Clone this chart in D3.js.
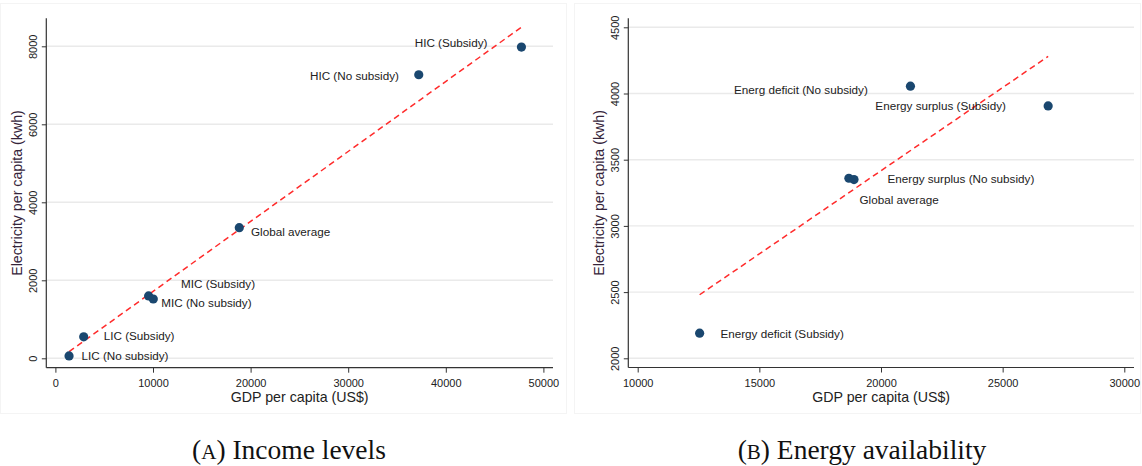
<!DOCTYPE html>
<html>
<head>
<meta charset="utf-8">
<script src="https://cdn.jsdelivr.net/npm/d3@7"></script>
<style>
  html, body { margin: 0; padding: 0; background: #fff; }
  svg { display: block; }
  text { font-family: "Liberation Sans", Arial, sans-serif; }
</style>
</head>
<body>
<svg id="chart" width="1142" height="466"></svg>
<script>
// ---- Panel A: income levels ----
const incomeGroups = ["LIC (No subsidy)", "LIC (Subsidy)", "MIC (Subsidy)", "MIC (No subsidy)",
                      "Global average", "HIC (No subsidy)", "HIC (Subsidy)"];
const incomeGdp  = [1400, 2900, 9550, 10030, 18840, 37230, 47750];
const incomeElec = [60, 550, 1600, 1520, 3350, 7270, 7980];
const incomeFitGdp  = [1400, 47750];
const incomeFitElec = [170, 8490];
const incomeXTicks = [0, 10000, 20000, 30000, 40000, 50000];
const incomeYTicks = [0, 2000, 4000, 6000, 8000];

// ---- Panel B: energy availability ----
const energyGroups = ["Energy deficit (Subsidy)", "Energy surplus (No subsidy)", "Global average",
                      "Energ deficit (No subsidy)", "Energy surplus (Subsidy)"];
const energyGdp  = [12545, 18680, 18890, 21210, 26870];
const energyElec = [2190, 3360, 3350, 4055, 3906];
const energyFitGdp  = [12545, 26870];
const energyFitElec = [2480, 4280];
const energyXTicks = [10000, 15000, 20000, 25000, 30000];
const energyYTicks = [2000, 2500, 3000, 3500, 4000, 4500];

const xTitle = "GDP per capita (US$)";
const yTitle = "Electricity per capita (kwh)";

// Marker label placement (pixel offsets from the marker, text anchor)
const incomeLabelPlace = [
  { dx: 12.4, dy: 0,    anchor: "start" },
  { dx: 20,   dy: -0.7, anchor: "start" },
  { dx: 32.4, dy: -12.4, anchor: "start" },
  { dx: 8,    dy: 3.7,  anchor: "start" },
  { dx: 11.7, dy: 3.7,  anchor: "start" },
  { dx: -19.8, dy: 1.4, anchor: "end" },
  { dx: -34,  dy: -4.7, anchor: "end" }
];
const energyLabelPlace = [
  { dx: 20.8, dy: 0.7,  anchor: "start" },
  { dx: 38.6, dy: 0.3,  anchor: "start" },
  { dx: 5.5,  dy: 20.7, anchor: "start" },
  { dx: -42.6, dy: 4,   anchor: "end" },
  { dx: -42.2, dy: 0.3, anchor: "end" }
];

const svg = d3.select("#chart");

// faint panel frames
svg.append("rect").attr("x", 0.5).attr("y", 3.5).attr("width", 566).attr("height", 410)
  .attr("fill", "#fff").attr("stroke", "#f4f4f4");
svg.append("rect").attr("x", 574.5).attr("y", 3.5).attr("width", 566).attr("height", 410)
  .attr("fill", "#fff").attr("stroke", "#f4f4f4");

function drawPanel(cfg) {
  const g = svg.append("g");
  const x = d3.scaleLinear().domain(cfg.xDomain).range(cfg.xRange);
  const y = d3.scaleLinear().domain(cfg.yDomain).range(cfg.yRange);
  const left = cfg.axisLeft, right = cfg.plotRight, top = cfg.axisTop, bottom = cfg.axisBottom;

  // horizontal gridlines
  g.append("g").selectAll("line").data(cfg.yTicks).join("line")
    .attr("x1", left).attr("x2", right)
    .attr("y1", d => y(d)).attr("y2", d => y(d))
    .attr("stroke", "#eaeaea").attr("stroke-width", 1.4);

  // y axis
  const yAxis = d3.axisLeft(y).tickValues(cfg.yTicks).tickSize(4.5).tickPadding(0).tickFormat(d3.format("d"));
  const ya = g.append("g").attr("transform", `translate(${left},0)`).call(yAxis);
  ya.select(".domain").remove();
  ya.selectAll(".tick line").attr("stroke", "#333").attr("stroke-width", 1);
  ya.selectAll(".tick text")
    .attr("x", null).attr("dy", null).attr("text-anchor", "middle")
    .attr("transform", "translate(-9.2,0) rotate(-90)")
    .attr("fill", "#222").attr("font-size", 11)
    .style("font-family", "Liberation Sans, Arial, sans-serif");
  g.append("line").attr("x1", left).attr("x2", left).attr("y1", top).attr("y2", bottom)
    .attr("stroke", "#333").attr("stroke-width", 1.2);

  // x axis
  const xAxis = d3.axisBottom(x).tickValues(cfg.xTicks).tickSize(5).tickPadding(0).tickFormat(d3.format("d"));
  const xa = g.append("g").attr("transform", `translate(0,${bottom})`).call(xAxis);
  xa.select(".domain").remove();
  xa.selectAll(".tick line").attr("stroke", "#333").attr("stroke-width", 1);
  xa.selectAll(".tick text")
    .attr("y", 19.3).attr("dy", null)
    .attr("fill", "#222").attr("font-size", 11)
    .style("font-family", "Liberation Sans, Arial, sans-serif");
  g.append("line").attr("x1", left).attr("x2", right).attr("y1", bottom).attr("y2", bottom)
    .attr("stroke", "#333").attr("stroke-width", 1.2);

  // axis titles
  g.append("text").attr("x", (left + right) / 2).attr("y", bottom + 34.5)
    .attr("text-anchor", "middle").attr("font-size", 14.2).attr("fill", "#222")
    .text(xTitle);
  g.append("text")
    .attr("transform", `translate(${left - 24.5},${(top + bottom) / 2}) rotate(-90)`)
    .attr("text-anchor", "middle").attr("font-size", 14.2).attr("fill", "#35243a")
    .text(yTitle);

  // fitted line
  const fit = cfg.fitX.map((v, i) => [v, cfg.fitY[i]]);
  g.append("path").datum(fit)
    .attr("d", d3.line().x(d => x(d[0])).y(d => y(d[1])))
    .attr("fill", "none").attr("stroke", "#ff2b2b").attr("stroke-width", 1.5)
    .attr("stroke-dasharray", "6,4");

  // points
  const pts = cfg.names.map((n, i) => ({ name: n, gx: cfg.gdp[i], ey: cfg.elec[i], place: cfg.place[i] }));
  g.append("g").selectAll("circle").data(pts).join("circle")
    .attr("cx", d => x(d.gx)).attr("cy", d => y(d.ey)).attr("r", 4.6)
    .attr("fill", "#1a476f");

  // marker labels
  g.append("g").selectAll("text").data(pts).join("text")
    .attr("x", d => x(d.gx) + d.place.dx)
    .attr("y", d => y(d.ey) + d.place.dy + 4.2)
    .attr("text-anchor", d => d.place.anchor)
    .attr("font-size", 11.7).attr("fill", "#222")
    .text(d => d.name);
}

drawPanel({
  names: incomeGroups, gdp: incomeGdp, elec: incomeElec, place: incomeLabelPlace,
  fitX: incomeFitGdp, fitY: incomeFitElec,
  xTicks: incomeXTicks, yTicks: incomeYTicks,
  xDomain: [0, 50000], xRange: [55.4, 543.4],
  yDomain: [0, 8000], yRange: [358.3, 46.3],
  axisLeft: 46.3, plotRight: 553, axisTop: 18.3, axisBottom: 367.7
});

drawPanel({
  names: energyGroups, gdp: energyGdp, elec: energyElec, place: energyLabelPlace,
  fitX: energyFitGdp, fitY: energyFitElec,
  xTicks: energyXTicks, yTicks: energyYTicks,
  xDomain: [10000, 30000], xRange: [637.7, 1124.3],
  yDomain: [2000, 4500], yRange: [358.3, 27.3],
  axisLeft: 628.3, plotRight: 1134, axisTop: 18.3, axisBottom: 367.5
});

// panel captions
function caption(cx, letter, rest) {
  const t = svg.append("text").attr("x", cx).attr("y", 459)
    .attr("text-anchor", "middle").attr("fill", "#111")
    .style("font-family", "'Liberation Serif', 'Times New Roman', serif").attr("font-size", 27.5);
  t.append("tspan").text("(");
  t.append("tspan").attr("font-size", 21).text(letter);
  t.append("tspan").text(") " + rest);
}
caption(289, "A", "Income levels");
caption(862, "B", "Energy availability");
</script>
</body>
</html>
